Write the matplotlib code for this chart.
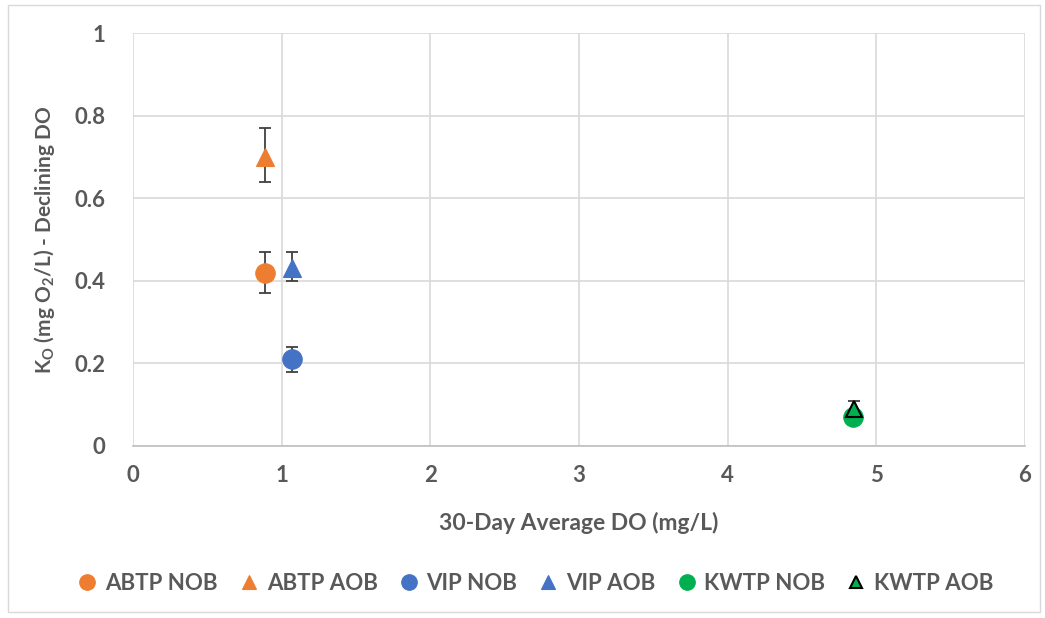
import matplotlib
matplotlib.use("Agg")
import matplotlib.pyplot as plt
from matplotlib.patches import Rectangle

plt.rcParams['font.family'] = ['Lato', 'DejaVu Sans']

series = ["ABTP NOB", "ABTP AOB", "VIP NOB", "VIP AOB", "KWTP NOB", "KWTP AOB"]
x_vals = [0.89, 0.89, 1.07, 1.07, 4.84, 4.85]
y_vals = [0.42, 0.70, 0.21, 0.43, 0.07, 0.09]
err_lo = [0.05, 0.06, 0.03, 0.03, 0.0, 0.02]
err_hi = [0.05, 0.07, 0.03, 0.04, 0.0, 0.02]
markers = ["o", "^", "o", "^", "o", "^"]
colors = ["#ED7D31", "#ED7D31", "#4472C4", "#4472C4", "#00B050", "#00B050"]
edges = ["#ED7D31", "#ED7D31", "#4472C4", "#4472C4", "#00B050", "#000000"]
sizes = [14, 13, 14, 13, 14, 11]

W, H = 1045, 618
fig = plt.figure(figsize=(W/100, H/100), dpi=100)
ax = fig.add_axes([133/W, 1-446/H, (1025-133)/W, (446-33)/H])

txt = "#595959"
for i in range(len(series)):
    if err_lo[i] > 0 or err_hi[i] > 0:
        ax.errorbar(x_vals[i], y_vals[i], yerr=[[err_lo[i]], [err_hi[i]]], fmt='none',
                    ecolor="#404040", elinewidth=1.3, capsize=4, capthick=1.3, zorder=2)
    ax.plot(x_vals[i], y_vals[i], linestyle='none', marker=markers[i], markersize=sizes[i],
            markerfacecolor=colors[i], markeredgecolor=edges[i],
            markeredgewidth=1.5 if edges[i] == "#000000" else 0.8, label=series[i], zorder=3)

ax.set_xlim(0, 6)
ax.set_ylim(0, 1)
ax.set_xticks([0, 1, 2, 3, 4, 5, 6])
ax.set_yticks([0, 0.2, 0.4, 0.6, 0.8, 1.0])
ax.set_yticklabels(["0", "0.2", "0.4", "0.6", "0.8", "1"])
ax.grid(True, color="#D9D9D9", linewidth=1.2)
ax.set_axisbelow(True)
for s in ["top", "right", "left"]:
    ax.spines[s].set_visible(False)
ax.spines["bottom"].set_color("#BFBFBF")
ax.spines["bottom"].set_linewidth(1.2)
ax.tick_params(axis='x', length=0, labelsize=16, labelcolor=txt, pad=14)
ax.tick_params(axis='y', length=0, labelsize=16, labelcolor=txt, pad=20)
for lab in ax.get_xticklabels() + ax.get_yticklabels():
    lab.set_fontweight('bold')

ax.set_xlabel("30-Day Average DO (mg/L)", fontsize=16.5, color=txt, fontweight='bold', labelpad=18)
ax.set_ylabel(r"K$_\mathregular{O}$ (mg O$_\mathregular{2}$/L) - Declining DO", fontsize=15,
              color=txt, fontweight='bold', labelpad=12)

leg = fig.legend(loc='center', bbox_to_anchor=(0.513, 1-583/H), ncol=6, frameon=False,
                 fontsize=16, handlelength=0.8, handletextpad=0.4, columnspacing=1.0,
                 markerscale=0.8)
for t in leg.get_texts():
    t.set_color(txt)
    t.set_fontweight('bold')

fig.patches.append(Rectangle((8/W, 1-612/H), (1040-8)/W, (612-5)/H, transform=fig.transFigure,
                             fill=False, edgecolor="#D9D9D9", linewidth=1))

fig.savefig("out.png", dpi=100)
